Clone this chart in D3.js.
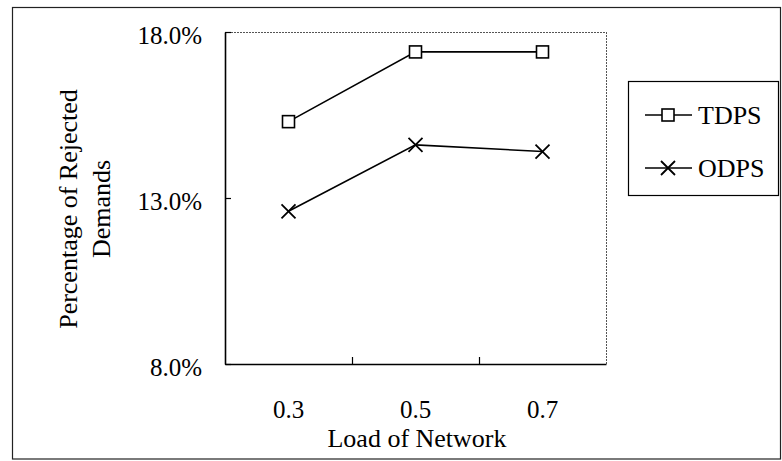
<!DOCTYPE html>
<html>
<head>
<meta charset="utf-8">
<script src="https://cdn.jsdelivr.net/npm/d3@7"></script>
<style>
  html, body { margin: 0; padding: 0; background: #fff; }
  svg { display: block; }
  text { font-family: "Liberation Serif", "Times New Roman", serif; fill: #000; }
</style>
</head>
<body>
<svg id="chart" width="782" height="461"></svg>
<script>
const categories = ["0.3", "0.5", "0.7"];
const seriesNames = ["TDPS", "ODPS"];
const tdpsValues = [15.3, 17.4, 17.4];
const odpsValues = [12.6, 14.6, 14.4];
const yTicks = [8, 13, 18];

const svg = d3.select("#chart");
const plot = { left: 225, top: 32, right: 606, bottom: 364 };

// outer frame
svg.append("rect")
  .attr("x", 12.5).attr("y", 7.5)
  .attr("width", 768).attr("height", 451.5)
  .attr("fill", "none").attr("stroke", "#222").attr("stroke-width", 1.2);

const x = d3.scaleBand().domain(categories).range([plot.left, plot.right]).padding(0);
const y = d3.scaleLinear().domain([8, 18]).range([plot.bottom, plot.top]);

// top & right plot border (dotted, light)
svg.append("line")
  .attr("x1", plot.left).attr("x2", plot.right)
  .attr("y1", plot.top + 0.5).attr("y2", plot.top + 0.5)
  .attr("stroke", "#555").attr("stroke-width", 1).attr("stroke-dasharray", "2,1");
svg.append("line")
  .attr("x1", plot.right + 0.5).attr("x2", plot.right + 0.5)
  .attr("y1", plot.top).attr("y2", plot.bottom)
  .attr("stroke", "#555").attr("stroke-width", 1).attr("stroke-dasharray", "2,1");

// y axis
const yAxis = d3.axisLeft(y)
  .tickValues(yTicks)
  .tickSizeInner(-6).tickSizeOuter(0)
  .tickPadding(23)
  .tickFormat(d => d.toFixed(1) + "%");
const gy = svg.append("g").attr("transform", `translate(${plot.left},0)`).call(yAxis);
gy.attr("font-family", null);
gy.select(".domain").attr("stroke", "#000").attr("stroke-width", 1.6);
gy.selectAll(".tick line").attr("stroke", "#000").attr("stroke-width", 1.2);
gy.selectAll(".tick text")
  .attr("font-size", 25).attr("dy", "0.44em");

// x axis
const xAxis = d3.axisBottom(x).tickSize(0).tickPadding(0);
const gx = svg.append("g").attr("transform", `translate(0,${plot.bottom})`).call(xAxis);
gx.attr("font-family", null);
gx.select(".domain").attr("stroke", "#000").attr("stroke-width", 1.6);
gx.selectAll(".tick text")
  .attr("font-size", 25).attr("dy", 0).attr("y", 54);
// inner category separators (tick marks between categories)
svg.append("g").selectAll("line")
  .data(categories.slice(1))
  .join("line")
  .attr("x1", d => Math.round(x(d)) + 0.5).attr("x2", d => Math.round(x(d)) + 0.5)
  .attr("y1", plot.bottom).attr("y2", plot.bottom - 7)
  .attr("stroke", "#000").attr("stroke-width", 1.2);

const cx = d => x(d) + x.bandwidth() / 2;

// lines
const line = d3.line().x(d => cx(d.c)).y(d => y(d.v));
const tdps = categories.map((c, i) => ({ c, v: tdpsValues[i] }));
const odps = categories.map((c, i) => ({ c, v: odpsValues[i] }));

[tdps, odps].forEach(data => {
  svg.append("path").datum(data)
    .attr("d", line).attr("fill", "none")
    .attr("stroke", "#000").attr("stroke-width", 1.6);
});

function drawSquare(g, px, py) {
  g.append("rect").attr("x", px - 6).attr("y", py - 6)
    .attr("width", 12).attr("height", 12)
    .attr("fill", "#fff").attr("stroke", "#000").attr("stroke-width", 1.6);
}
function drawCross(g, px, py) {
  const s = 7;
  g.append("path")
    .attr("d", `M${px - s},${py - s}L${px + s},${py + s}M${px - s},${py + s}L${px + s},${py - s}`)
    .attr("stroke", "#000").attr("stroke-width", 1.8).attr("fill", "none");
}

const mk = svg.append("g");
tdps.forEach(d => drawSquare(mk, cx(d.c), y(d.v)));
odps.forEach(d => drawCross(mk, cx(d.c), y(d.v)));

// axis titles
svg.append("text")
  .attr("x", 417).attr("y", 447)
  .attr("text-anchor", "middle").attr("font-size", 26)
  .text("Load of Network");

const yt = svg.append("text")
  .attr("transform", "translate(0,209) rotate(-90)")
  .attr("text-anchor", "middle").attr("font-size", 26);
yt.append("tspan").attr("x", 0).attr("y", 77).text("Percentage of Rejected");
yt.append("tspan").attr("x", 0).attr("y", 110).text("Demands");

// legend
const lg = svg.append("g");
lg.append("rect")
  .attr("x", 628.5).attr("y", 81.5).attr("width", 150).attr("height", 114)
  .attr("fill", "#fff").attr("stroke", "#000").attr("stroke-width", 1.2);
const legendRows = [115, 168];
seriesNames.forEach((name, i) => {
  const ly = legendRows[i];
  lg.append("line").attr("x1", 645).attr("x2", 692).attr("y1", ly).attr("y2", ly)
    .attr("stroke", "#000").attr("stroke-width", 1.6);
  if (i === 0) drawSquare(lg, 668, ly); else drawCross(lg, 668, ly);
  lg.append("text").attr("x", 698).attr("y", ly + 9)
    .attr("font-size", 26).text(name);
});
</script>
</body>
</html>
